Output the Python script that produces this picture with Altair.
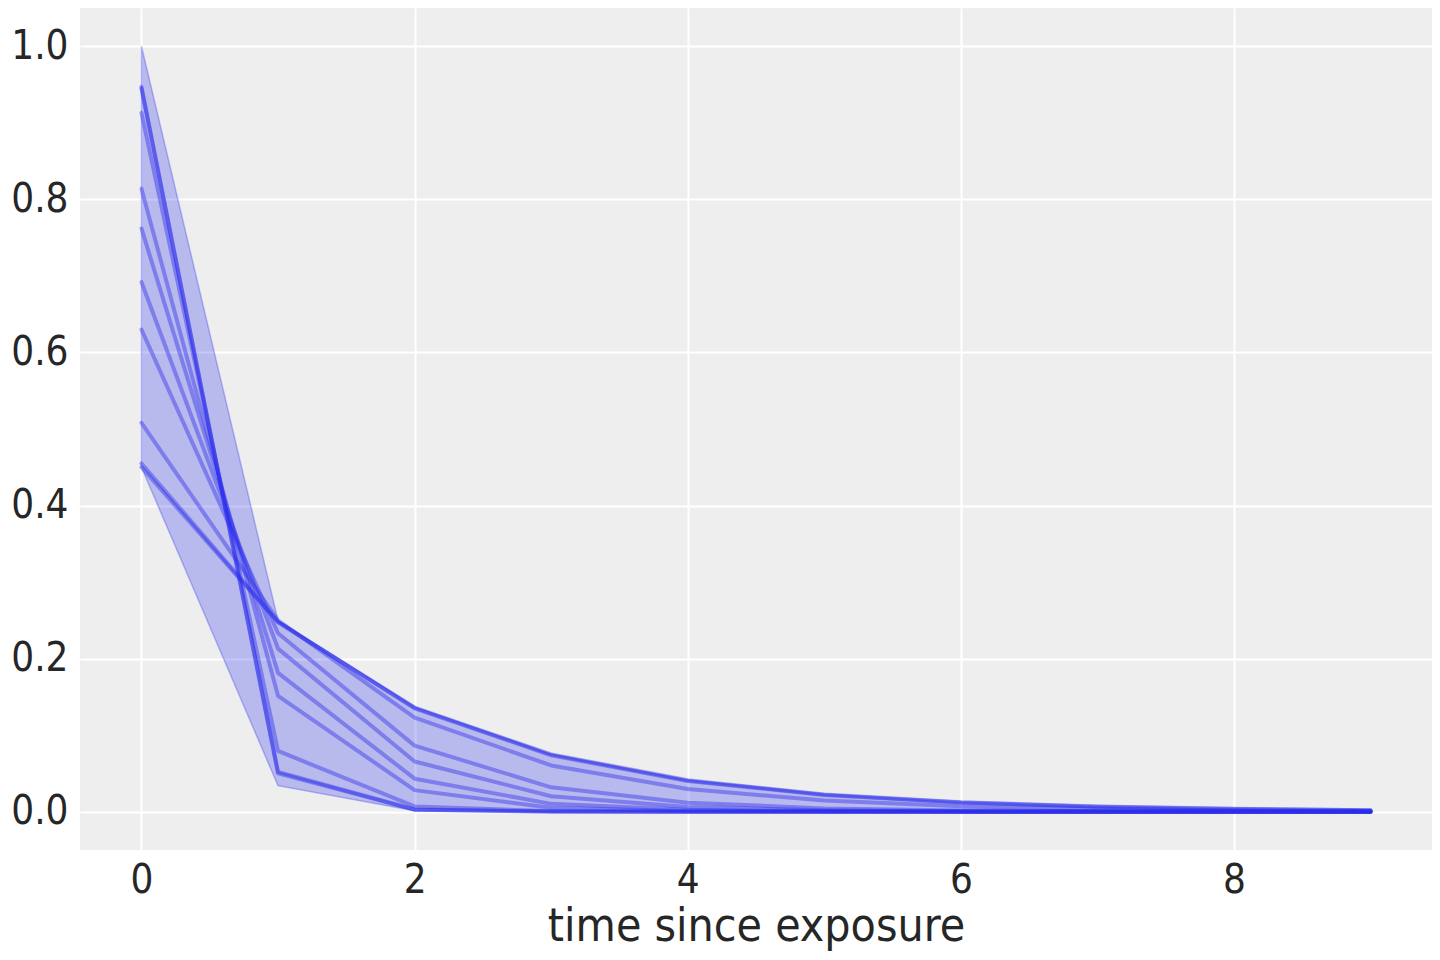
import altair as alt
import pandas as pd

t = [0, 1, 2, 3, 4, 5, 6, 7, 8, 9]

curves = {
    "c1": [0.947, 0.0502, 0.00266, 0.00014, 0.0, 0.0, 0.0, 0.0, 0.0, 0.0],
    "c2": [0.945, 0.0520, 0.00286, 0.00016, 0.0, 0.0, 0.0, 0.0, 0.0, 0.0],
    "c3": [0.913, 0.0794, 0.00691, 0.0006, 0.00005, 0.0, 0.0, 0.0, 0.0, 0.0],
    "c4": [0.814, 0.1514, 0.0282, 0.00524, 0.00097, 0.00018, 0.00003, 0.0, 0.0, 0.0],
    "c5": [0.762, 0.1814, 0.0432, 0.0103, 0.00245, 0.00058, 0.00014, 0.00003, 0.0, 0.0],
    "c6": [0.692, 0.2131, 0.0657, 0.0202, 0.00623, 0.00192, 0.00059, 0.00018, 0.00006, 0.00002],
    "c7": [0.630, 0.2331, 0.0863, 0.0319, 0.0118, 0.00437, 0.00162, 0.0006, 0.00022, 0.00008],
    "c8": [0.508, 0.2499, 0.1230, 0.0605, 0.0298, 0.01465, 0.0072, 0.00355, 0.00174, 0.00086],
    "c9": [0.455, 0.2480, 0.1351, 0.0737, 0.0401, 0.0219, 0.0119, 0.0065, 0.00354, 0.00193],
    "c10": [0.450, 0.2475, 0.1361, 0.0749, 0.0412, 0.0226, 0.0125, 0.00685, 0.00377, 0.00207],
}

band_lower = [0.45, 0.034, 0.0012, 0.00004, 0.0, 0.0, 0.0, 0.0, 0.0, 0.0]
band_upper = [1.0, 0.25, 0.137, 0.075, 0.0413, 0.0227, 0.0125, 0.0069, 0.0038, 0.0021]

x_ticks = [0, 2, 4, 6, 8]
y_ticks = [0.0, 0.2, 0.4, 0.6, 0.8, 1.0]

rows = []
for name, vals in curves.items():
    for ti, v in zip(t, vals):
        rows.append({"t": ti, "w": v, "curve": name})
lines_df = pd.DataFrame(rows)
band_df = pd.DataFrame({"t": t, "lo": band_lower, "hi": band_upper})

BLUE = "#2a2eec"
FONT = "DejaVu Sans Condensed"

xscale = alt.Scale(domain=[-0.45, 9.45], nice=False, zero=False)
yscale = alt.Scale(domain=[-0.05, 1.05], nice=False, zero=False)

xaxis = alt.Axis(values=x_ticks, title="time since exposure", format="d",
                 grid=True, gridColor="white", gridWidth=2, domain=False, ticks=False,
                 labelFontSize=40, labelPadding=10, labelColor="#262626", labelFont=FONT,
                 titleFontSize=46, titleFont=FONT, titleFontWeight="normal",
                 titleColor="#262626", titlePadding=4)
yaxis = alt.Axis(values=y_ticks, title=None, format=".1f",
                 grid=True, gridColor="white", gridWidth=2, domain=False, ticks=False,
                 labelFontSize=40, labelPadding=12, labelColor="#262626", labelFont=FONT)

band = alt.Chart(band_df).mark_area(
    color=BLUE, fillOpacity=0.27, stroke=BLUE, strokeOpacity=0.3, strokeWidth=1.5
).encode(
    x=alt.X("t:Q", scale=xscale, axis=xaxis),
    y=alt.Y("lo:Q", scale=yscale, axis=yaxis),
    y2="hi:Q",
)

lines = alt.Chart(lines_df).mark_line(
    color=BLUE, opacity=0.42, strokeWidth=4, strokeCap="round", strokeJoin="round"
).encode(
    x=alt.X("t:Q", scale=xscale),
    y=alt.Y("w:Q", scale=yscale),
    detail="curve:N",
)

chart = alt.layer(band, lines).properties(
    width=1352, height=842,
    autosize=alt.AutoSizeParams(type="none"),
    padding={"left": 72, "top": 0, "right": 0, "bottom": 110},
    background="white",
).configure_view(fill="#eeeeee", stroke=None)

chart.save("out.html", embed_options={"renderer": "svg", "actions": False})
